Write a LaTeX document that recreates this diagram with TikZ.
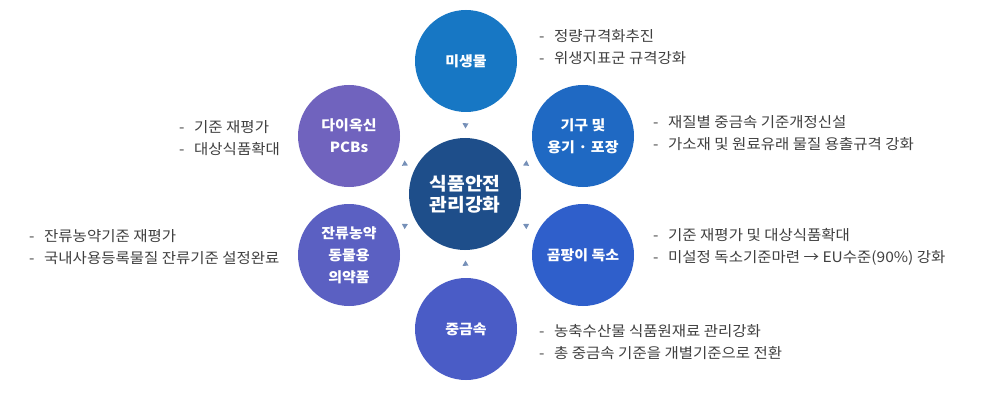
\documentclass[tikz,border=0pt]{standalone}
\usepackage{fontspec}
\setmainfont{Noto Sans CJK KR}[FakeStretch=1.07]
\usetikzlibrary{shapes.geometric}
\definecolor{cMic}{HTML}{1777C4}
\definecolor{cPkg}{HTML}{1F69C3}
\definecolor{cMyc}{HTML}{2F5FCB}
\definecolor{cHvy}{HTML}{4A5CC6}
\definecolor{cRes}{HTML}{5B60C2}
\definecolor{cDio}{HTML}{7063BE}
\definecolor{cHub}{HTML}{1E4E8A}
\definecolor{cTri}{HTML}{7690B8}
\definecolor{cTxt}{HTML}{404040}
\begin{document}
\begin{tikzpicture}[x=1pt,y=-1pt,
  circ/.style={circle, minimum size=102pt, inner sep=0pt, text=white,
    font=\fontsize{14}{22}\selectfont\bfseries, align=center},
  hub/.style={circle, minimum size=112pt, inner sep=0pt, fill=cHub, text=white,
    font=\fontsize{18}{21}\selectfont\bfseries, align=center},
  tri/.style={regular polygon, regular polygon sides=3, minimum size=7pt,
    inner sep=0pt, fill=cTri, shape border rotate=-90, sloped, allow upside down},
  bul/.style={anchor=west, inner sep=0pt, align=left, text=cTxt,
    font=\fontsize{14.5}{22.5}\selectfont}
]
\useasboundingbox[fill=white] (0,0) rectangle (982,401);
\newcommand{\dsh}{\makebox[15pt][l]{-}}
\node[hub] (c) at (465,194) {식품안전\\관리강화};
\node[circ, fill=cMic] (m) at (466,61) {미생물};
\node[circ, fill=cPkg] (p) at (583,136) {기구 및\\용기 · 포장};
\node[circ, fill=cMyc] (y) at (583,255) {곰팡이 독소};
\node[circ, fill=cHvy] (h) at (466,329) {중금속};
\node[circ, fill=cRes] (r) at (349,255) {잔류농약\\동물용\\의약품};
\node[circ, fill=cDio] (d) at (349,136) {다이옥신\\PCBs};

\foreach \s in {m,p,y,h,r,d}{
  \path (\s) -- node[tri, pos=0.5] {} (c);
}

\node[bul] (tm) at (539,47) {\dsh 정량규격화추진\\\dsh 위생지표군 규격강화};
\node[bul] (tp) at (653,133) {\dsh 재질별 중금속 기준개정신설\\\dsh 가소재 및 원료유래 물질 용출규격 강화};
\node[bul] (ty) at (653,247) {\dsh 기준 재평가 및 대상식품확대\\\dsh 미설정 독소기준마련 → EU수준(90\%) 강화};
\node[bul] (th) at (539,342) {\dsh 농축수산물 식품원재료 관리강화\\\dsh 총 중금속 기준을 개별기준으로 전환};
\node[bul] (td) at (179,138) {\dsh 기준 재평가\\\dsh 대상식품확대};
\node[bul] (tr) at (29,247) {\dsh 잔류농약기준 재평가\\\dsh 국내사용등록물질 잔류기준 설정완료};
\end{tikzpicture}
\end{document}
